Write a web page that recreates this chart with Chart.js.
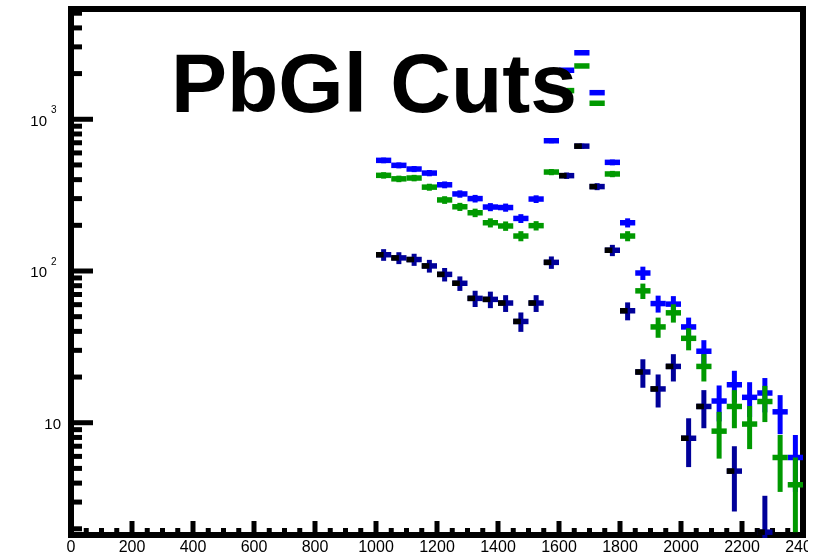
<!DOCTYPE html>
<html>
<head>
<meta charset="utf-8">
<script src="https://cdn.jsdelivr.net/npm/chart.js@4.4.1/dist/chart.umd.min.js"></script>
<style>
  html, body { margin: 0; padding: 0; background: #ffffff; }
  #wrap { width: 821px; height: 557px; }
</style>
</head>
<body>
<div id="wrap"><canvas id="pbglChart" width="821" height="557"></canvas></div>
<script>
// bin centres (bins are 50 wide)
var binCenters = [1025, 1075, 1125, 1175, 1225, 1275, 1325, 1375, 1425, 1475, 1525, 1575, 1625, 1675,
                  1725, 1775, 1825, 1875, 1925, 1975, 2025, 2075, 2125, 2175, 2225, 2275, 2325, 2375];

var blueCounts = [536, 497, 470, 442, 370, 322, 300, 264, 262, 222, 298, 722, 2104, 2743,
                  1497, 520, 208, 97, 61, 60.5, 42.8, 29.6, 13.9, 17.8, 14.7, 15.7, 11.8, 5.9];
var blueErrors = [23.2, 22.3, 21.7, 21.0, 19.2, 17.9, 17.3, 16.2, 16.2, 14.9, 17.3, 26.9, 45.9, 52.4,
                  38.7, 22.8, 14.4, 9.8, 7.8, 7.8, 6.5, 5.4, 3.7, 4.2, 3.8, 4.0, 3.4, 2.4];

var greenCounts = [427, 405, 410, 357, 294, 265, 242, 208, 198, 170, 199, 449, 1545, 2245,
                   1275, 436, 170, 74, 42.8, 53, 36, 23.5, 8.8, 12.8, 9.8, 13.8, 5.9, 3.9];
var greenErrors = [20.7, 20.1, 20.2, 18.9, 17.1, 16.3, 15.6, 14.4, 14.1, 13.0, 14.1, 21.2, 39.3, 47.4,
                   35.7, 20.9, 13.0, 8.6, 6.5, 7.3, 6.0, 4.8, 3.0, 3.6, 3.1, 3.7, 2.4, 2.0];

var navyCounts = [128, 122, 119, 108, 95, 83, 66, 65, 61.5, 46.5, 61.5, 114, 425, 665,
                  360, 137, 54.7, 21.6, 16.7, 23.5, 7.9, 12.8, null, 4.8, null, 1.9, null, null];
var navyErrors = [11.3, 11.0, 10.9, 10.4, 9.7, 9.1, 8.1, 8.1, 7.8, 6.8, 7.8, 10.7, 20.6, 25.8,
                  19.0, 11.7, 7.4, 4.6, 4.1, 4.8, 2.8, 3.6, null, 2.2, null, 1.4, null, null];

var xTickLabels = ['0', '200', '400', '600', '800', '1000', '1200', '1400', '1600', '1800', '2000', '2200', '2400'];
var yMajorTicks = [10, 100, 1000];
var yMajorExponents = ['', '2', '3'];
var yMinorTicks = [2, 3, 4, 5, 6, 7, 8, 9, 20, 30, 40, 50, 60, 70, 80, 90,
                   200, 300, 400, 500, 600, 700, 800, 900, 2000, 3000, 4000, 5000];

var titleText = 'PbGl Cuts';
var binHalf = 25;

function makePoints(counts, errors) {
  var pts = [];
  for (var i = 0; i < binCenters.length; i++) {
    if (counts[i] == null) continue;
    pts.push({ x: binCenters[i], y: counts[i], err: errors[i] });
  }
  return pts;
}

function line(ctx, x1, y1, x2, y2) {
  ctx.beginPath();
  ctx.moveTo(x1, y1);
  ctx.lineTo(x2, y2);
  ctx.stroke();
}

// frame, ticks and labels, ROOT style (ticks inside the frame)
var framePlugin = {
  id: 'frame',
  beforeDatasetsDraw: function(chart) {
    var ctx = chart.ctx, a = chart.chartArea;
    var xs = chart.scales.x, ys = chart.scales.y;
    ctx.save();
    ctx.strokeStyle = '#000';
    ctx.lineCap = 'butt';

    ctx.lineWidth = 5;
    for (var v = 0; v <= 2400; v += 50) {
      var px = xs.getPixelForValue(v);
      var len = (v % 200 == 0) ? 14 : 7;
      line(ctx, px, a.bottom, px, a.bottom - len);
    }
    yMinorTicks.forEach(function(t) {
      var py = ys.getPixelForValue(t);
      line(ctx, a.left, py, a.left + 11, py);
    });
    yMajorTicks.forEach(function(t) {
      var py = ys.getPixelForValue(t);
      line(ctx, a.left, py, a.left + 22, py);
    });

    ctx.lineWidth = 6;
    ctx.strokeRect(a.left, a.top, a.right - a.left, a.bottom - a.top);

    // x labels, clipped at the pad edge like the original
    ctx.save();
    ctx.beginPath();
    ctx.rect(0, a.bottom, a.right + 5, 40);
    ctx.clip();
    ctx.fillStyle = '#000';
    ctx.font = '16px "Liberation Sans", Arial, sans-serif';
    ctx.textAlign = 'center';
    ctx.textBaseline = 'alphabetic';
    xTickLabels.forEach(function(lab) {
      var px = xs.getPixelForValue(parseFloat(lab));
      ctx.fillText(lab, px, a.bottom + 17);
    });
    ctx.restore();

    // y labels
    ctx.fillStyle = '#000';
    ctx.textBaseline = 'alphabetic';
    yMajorTicks.forEach(function(t, i) {
      var py = ys.getPixelForValue(t);
      ctx.font = '15px "Liberation Sans", Arial, sans-serif';
      ctx.textAlign = 'right';
      if (yMajorExponents[i] == '') {
        ctx.fillText('10', a.left - 10, py + 6);
      } else {
        ctx.fillText('10', a.left - 24, py + 6.5);
        ctx.font = '10px "Liberation Sans", Arial, sans-serif';
        ctx.textAlign = 'left';
        ctx.fillText(yMajorExponents[i], a.left - 20, py - 6);
      }
    });
    ctx.restore();
  },
  afterDatasetsDraw: function(chart) {
    var ctx = chart.ctx, a = chart.chartArea;
    var xs = chart.scales.x, ys = chart.scales.y;
    ctx.save();
    ctx.beginPath();
    ctx.rect(a.left, a.top - 3, a.right - a.left, a.bottom - a.top + 6);
    ctx.clip();
    ctx.lineCap = 'butt';
    chart.data.datasets.forEach(function(ds) {
      ds.data.forEach(function(p) {
        var px = xs.getPixelForValue(p.x);
        var py = ys.getPixelForValue(p.y);
        var xl = xs.getPixelForValue(p.x - binHalf);
        var xr = xs.getPixelForValue(p.x + binHalf);
        var yt = ys.getPixelForValue(p.y + p.err);
        var yb = ys.getPixelForValue(Math.max(p.y - p.err, 0.5));
        ctx.strokeStyle = ds.borderColor;
        ctx.lineWidth = 5.5;
        line(ctx, xl, py, xr, py);
        ctx.lineWidth = 5;
        line(ctx, px, yt, px, yb);
        if (ds.markerColor) {
          ctx.strokeStyle = ds.markerColor;
          ctx.lineWidth = 5.5;
          line(ctx, xl, py, px, py);
        }
      });
    });
    ctx.restore();
  },
  afterDraw: function(chart) {
    var ctx = chart.ctx;
    ctx.save();
    ctx.fillStyle = '#000';
    ctx.font = 'bold 84px "Liberation Sans", Arial, sans-serif';
    ctx.textAlign = 'left';
    ctx.textBaseline = 'alphabetic';
    ctx.fillText(titleText, 171, 112);
    ctx.restore();
  }
};

new Chart(document.getElementById('pbglChart'), {
  type: 'scatter',
  data: {
    datasets: [{
      label: 'blue',
      data: makePoints(blueCounts, blueErrors),
      borderColor: '#0000ff',
      pointRadius: 0
    }, {
      label: 'green',
      data: makePoints(greenCounts, greenErrors),
      borderColor: '#009900',
      pointRadius: 0
    }, {
      label: 'navy',
      data: makePoints(navyCounts, navyErrors),
      borderColor: '#000099',
      markerColor: '#000000',
      pointRadius: 0
    }]
  },
  options: {
    responsive: false,
    animation: false,
    devicePixelRatio: 1,
    layout: { padding: { left: 71, right: 18, top: 9, bottom: 22 } },
    plugins: { legend: { display: false }, tooltip: { enabled: false } },
    scales: {
      x: { type: 'linear', min: 0, max: 2400, display: false },
      y: { type: 'logarithmic', min: 1.82, max: 5330, display: false }
    }
  },
  plugins: [framePlugin]
});
</script>
</body>
</html>
